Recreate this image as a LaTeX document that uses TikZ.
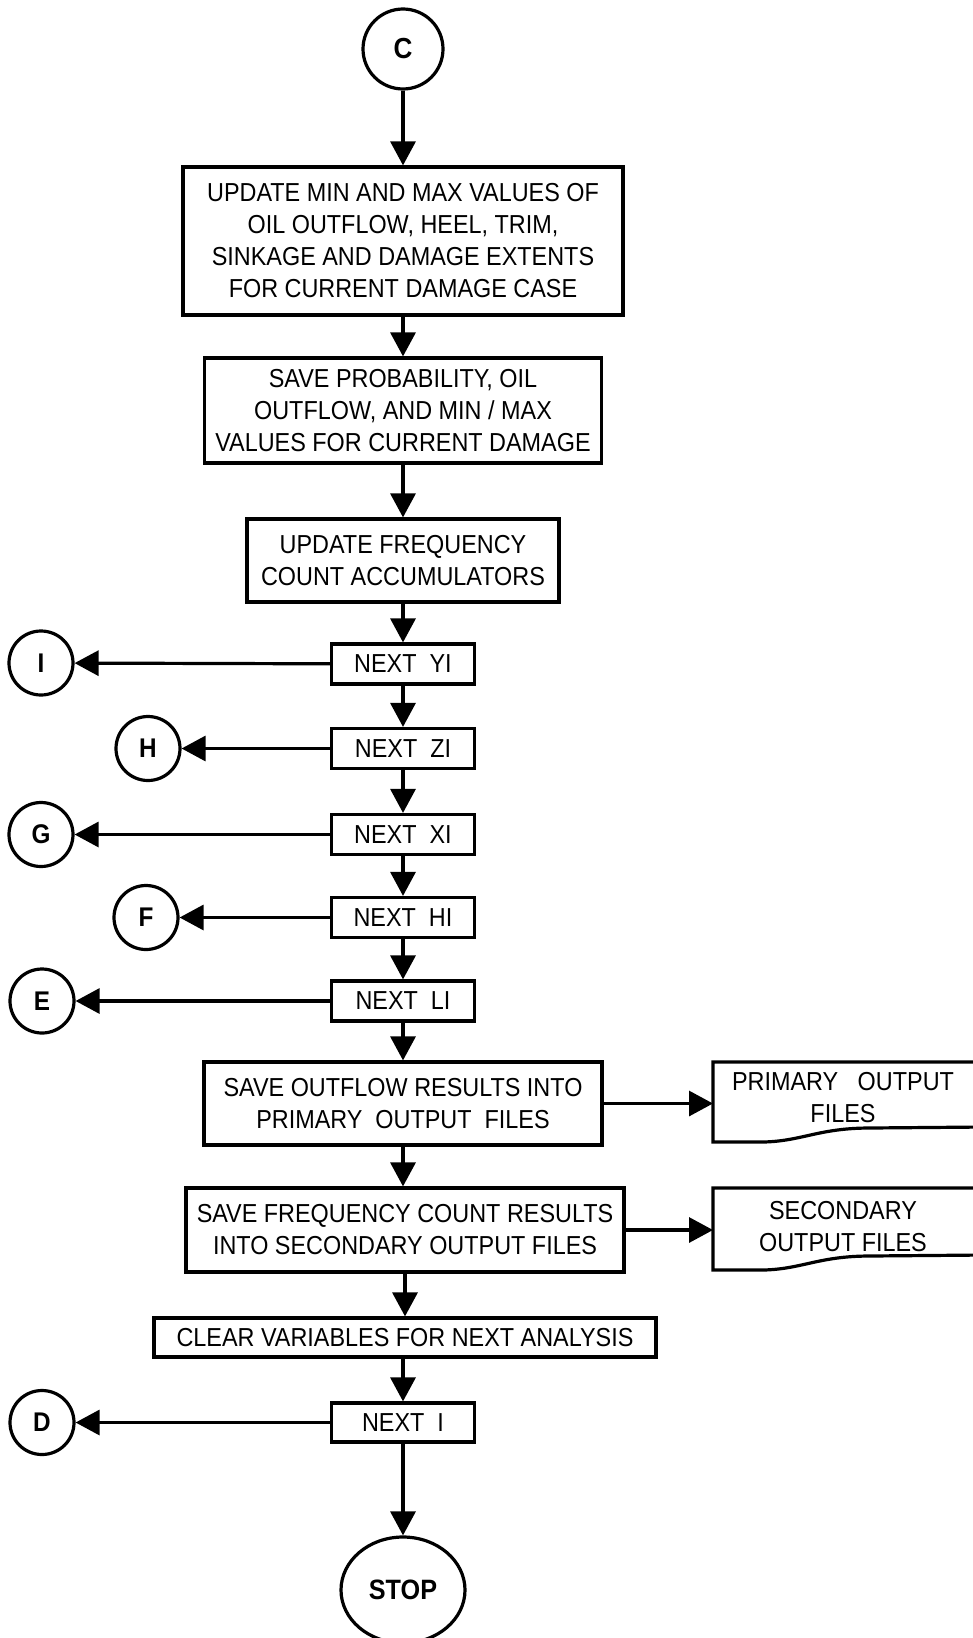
\documentclass[tikz,border=0pt]{standalone}
\usepackage{fontspec}
\setmainfont[FakeStretch=0.9]{Liberation Sans}
\usetikzlibrary{arrows.meta,shapes.geometric}
\begin{document}
\begin{tikzpicture}[x=1pt,y=-1pt,line width=3.2pt,
  every node/.style={font=\fontsize{26}{32}\selectfont,align=center,inner sep=0pt},
  box/.style={draw,rectangle},
  conn/.style={draw,circle,minimum size=64pt,font=\fontsize{27}{30}\selectfont\bfseries},
  arr/.style={-{Triangle[length=24pt,width=25pt]}}]
\useasboundingbox (0,0) rectangle (972,1638);
% main column
\node[draw,circle,minimum size=80pt,font=\fontsize{29}{30}\selectfont\bfseries] (c) at (403,49) {C};
\node[box,minimum width=440pt,minimum height=148pt] (b1) at (403,241)
  {UPDATE MIN AND MAX VALUES OF\\OIL OUTFLOW, HEEL, TRIM,\\SINKAGE AND DAMAGE EXTENTS\\FOR CURRENT DAMAGE CASE};
\node[box,minimum width=397pt,minimum height=105pt] (b2) at (403,410.5)
  {SAVE PROBABILITY, OIL\\OUTFLOW, AND MIN / MAX\\VALUES FOR CURRENT DAMAGE};
\node[box,minimum width=312pt,minimum height=83pt] (b3) at (403,560.5)
  {UPDATE FREQUENCY\\COUNT ACCUMULATORS};
\node[box,minimum width=143pt,minimum height=40pt] (yi) at (403,664) {NEXT\enspace YI};
\node[box,minimum width=143pt,minimum height=40pt] (zi) at (403,748.5) {NEXT\enspace ZI};
\node[box,minimum width=143pt,minimum height=40pt] (xi) at (403,834.5) {NEXT\enspace XI};
\node[box,minimum width=143pt,minimum height=40pt] (hi) at (403,917.5) {NEXT\enspace HI};
\node[box,minimum width=143pt,minimum height=40pt] (li) at (403,1001) {NEXT\enspace LI};
\node[box,minimum width=398pt,minimum height=83pt] (out) at (403,1103.5)
  {SAVE OUTFLOW RESULTS INTO\\PRIMARY\enspace OUTPUT\enspace FILES};
\node[box,minimum width=438pt,minimum height=84pt] (freq) at (405,1230)
  {SAVE FREQUENCY COUNT RESULTS\\INTO SECONDARY OUTPUT FILES};
\node[box,minimum width=502pt,minimum height=39pt] (clr) at (405,1337.5)
  {CLEAR VARIABLES FOR NEXT ANALYSIS};
\node[box,minimum width=143pt,minimum height=39pt] (ni) at (403,1422.5) {NEXT\enspace I};
\node[draw,ellipse,minimum width=124pt,minimum height=106pt,font=\fontsize{28}{30}\selectfont\bfseries] (stop) at (403,1590) {STOP};
% connectors (left)
\node[conn] (ci) at (41,663) {I};
\node[conn] (ch) at (148,748.5) {H};
\node[conn] (cg) at (41,834.5) {G};
\node[conn] (cf) at (146,917.5) {F};
\node[conn] (ce) at (42,1001) {E};
\node[conn] (cd) at (42,1422.5) {D};
% documents
\node (prim) at (843,1098) {PRIMARY\enspace\ OUTPUT\\FILES};
\draw (985,1062) -- (713,1062) -- (713,1142) -- (755,1142)
  .. controls (800,1143) and (815,1128) .. (870,1128) -- (985,1127);
\coordinate (primw) at (713,1103.5);
\node (sec) at (843,1227) {SECONDARY\\OUTPUT FILES};
\draw (985,1188) -- (713,1188) -- (713,1270) -- (755,1270)
  .. controls (800,1271) and (815,1256) .. (870,1256) -- (985,1255);
\coordinate (secw) at (713,1230);
% flow arrows
\draw[arr] (c) -- (b1);
\draw[arr] (b1) -- (b2);
\draw[arr] (b2) -- (b3);
\draw[arr] (b3) -- (yi);
\draw[arr] (yi) -- (zi);
\draw[arr] (zi) -- (xi);
\draw[arr] (xi) -- (hi);
\draw[arr] (hi) -- (li);
\draw[arr] (li) -- (out);
\draw[arr] (out.south) -- (out.south |- freq.north);
\draw[arr] (freq.south) -- (freq.south |- clr.north);
\draw[arr] (clr.south -| ni.north) -- (ni.north);
\draw[arr] (ni) -- (stop);
\draw[arr] (yi) -- (ci);
\draw[arr] (zi) -- (ch);
\draw[arr] (xi) -- (cg);
\draw[arr] (hi) -- (cf);
\draw[arr] (li) -- (ce);
\draw[arr] (ni) -- (cd);
\draw[arr] (out.east) -- (primw);
\draw[arr] (freq.east) -- (secw);
\end{tikzpicture}
\end{document}
